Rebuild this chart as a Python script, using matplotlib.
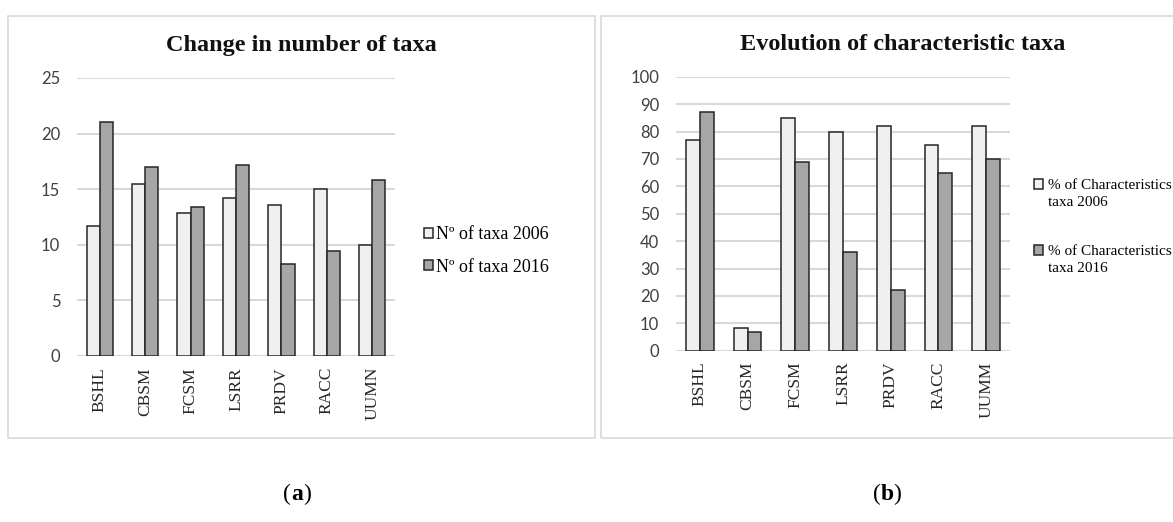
import matplotlib.pyplot as plt
import matplotlib.patches as patches
from matplotlib.container import BarContainer
from matplotlib.legend_handler import HandlerPatch
import numpy as np

# Datos
sitios_a = ["BSHL", "CBSM", "FCSM", "LSRR", "PRDV", "RACC", "UUMN"]
taxa_2006 = [11.7, 15.5, 12.9, 14.2, 13.6, 15.0, 10.0]
taxa_2016 = [21.0, 17.0, 13.4, 17.2, 8.3, 9.4, 15.8]

sitios_b = ["BSHL", "CBSM", "FCSM", "LSRR", "PRDV", "RACC", "UUMM"]
caract_2006 = [77, 8.2, 85, 80, 82, 75, 82]
caract_2016 = [87, 6.7, 69, 36, 22, 65, 70]

W, H = 1173, 522
SERIF = ["Liberation Serif", "DejaVu Serif"]
SANS = ["Lato", "DejaVu Sans"]
CLARO = "#f0f0f0"
OSCURO = "#a6a6a6"
BORDE = "#262626"
GRID = "#d9d9d9"
INTERLINEA = 1.4

fig = plt.figure(figsize=(W / 100, H / 100), dpi=100)


def caja(x0, y0, x1, y1):
    return [x0 / W, 1 - y1 / H, (x1 - x0) / W, (y1 - y0) / H]


# Marcos de los paneles
for x0, x1 in [(8, 595), (601, 1215)]:
    fig.patches.append(patches.Rectangle((x0 / W, 1 - 438 / H), (x1 - x0) / W, 422 / H,
                                         transform=fig.transFigure, fill=False,
                                         edgecolor="#d9d9d9", linewidth=1.2))


# Cuadro de leyenda alineado con la primera línea del texto (etiquetas de dos líneas)
def cuadro_arriba(legend, orig_handle, xdescent, ydescent, width, height, fontsize):
    return patches.Rectangle((-xdescent, -ydescent + 0.62 * fontsize), width, height)


def primer_hijo(dest, orig):
    dest.update_from(orig.patches[0])


def barras(ax, sitios, v06, v16, ymax, paso, lab06, lab16):
    x = np.arange(len(sitios))
    w = 0.29
    ax.bar(x - w / 2, v06, w, color=CLARO, edgecolor=BORDE, linewidth=1.1, label=lab06, zorder=3)
    ax.bar(x + w / 2, v16, w, color=OSCURO, edgecolor=BORDE, linewidth=1.1, label=lab16, zorder=3)
    ax.set_xlim(-0.5, len(sitios) - 0.5)
    ax.set_ylim(0, ymax)
    ax.set_yticks(np.arange(0, ymax + 1, paso))
    ax.yaxis.grid(True, color=GRID, linewidth=1.5, zorder=0)
    ax.set_axisbelow(True)
    for s in ax.spines.values():
        s.set_visible(False)
    ax.tick_params(length=0)
    ax.tick_params(axis="y", pad=12, labelsize=12, labelcolor="#404040")
    ax.tick_params(axis="x", pad=8, labelsize=12.5, labelcolor=BORDE)
    ax.set_xticks(x)
    ax.set_xticklabels(sitios, rotation=90, family=SERIF)
    for t in ax.get_yticklabels():
        t.set_family(SANS)


# Panel (a)
ax1 = fig.add_axes(caja(77, 78, 395, 356))
barras(ax1, sitios_a, taxa_2006, taxa_2016, 25, 5, "Nº of taxa 2006", "Nº of taxa 2016")
ax1.legend(loc="center left", bbox_to_anchor=(408 / W, 1 - 251 / H), bbox_transform=fig.transFigure,
           frameon=False, handlelength=0.5, handleheight=0.5, handletextpad=0.15,
           labelspacing=0.85, prop={"family": SERIF, "size": 13})
fig.text(301 / W, 1 - 45 / H, "Change in number of taxa", ha="center", va="center",
         family=SERIF, fontsize=17.5, fontweight="bold", color="#111111")

# Panel (b)
ax2 = fig.add_axes(caja(676, 76.7, 1010, 350.7))
barras(ax2, sitios_b, caract_2006, caract_2016, 100, 10,
       "% of Characteristics\ntaxa 2006", "% of Characteristics\ntaxa 2016")
leg2 = ax2.legend(loc="center left", bbox_to_anchor=(1020 / W, 1 - 227 / H),
                  bbox_transform=fig.transFigure,
                  frameon=False, handlelength=0.6, handleheight=0.6, handletextpad=0.3,
                  labelspacing=2.35, prop={"family": SERIF, "size": 11},
                  handler_map={BarContainer: HandlerPatch(patch_func=cuadro_arriba,
                                                          update_func=primer_hijo)})
for t in leg2.get_texts():
    t.set_linespacing(INTERLINEA)
fig.text(903 / W, 1 - 44 / H, "Evolution of characteristic taxa", ha="center", va="center",
         family=SERIF, fontsize=17.5, fontweight="bold", color="#111111")

# Etiquetas de panel: "(" normal, letra en negrita, ")" normal
for cx, letra in [(297, "a"), (887, "b")]:
    fig.text(cx / W, 1 - 495 / H, letra, ha="center", va="center", family=SERIF,
             fontsize=17, fontweight="bold")
    fig.text((cx - 6) / W, 1 - 494 / H, "(", ha="right", va="center", family=SERIF, fontsize=17)
    fig.text((cx + 6) / W, 1 - 494 / H, ")", ha="left", va="center", family=SERIF, fontsize=17)

fig.savefig("out.png", dpi=100)
